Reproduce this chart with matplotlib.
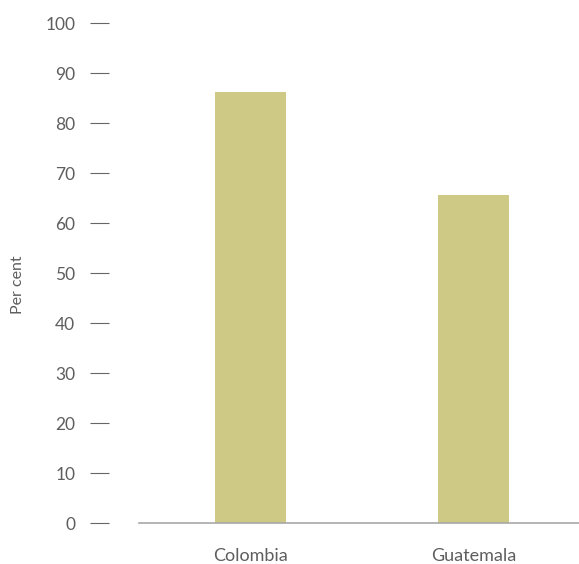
import matplotlib.pyplot as plt
import numpy as np

countries = ['Colombia', 'Guatemala']
per_cent = [86.3, 65.7]
y_ticks = list(range(0, 101, 10))

plt.rcParams['font.family'] = ['Lato', 'DejaVu Sans']

W, H = 579, 564
fig = plt.figure(figsize=(W / 100, H / 100), dpi=100)
ax = fig.add_axes([139 / W, (H - 523) / H, 446 / W, 500 / H])

x = np.arange(len(countries))
ax.bar(x, per_cent, width=0.314, color='#CECA86')

ax.set_xlim(-0.5, 1.5)
ax.set_ylim(0, 100)
ax.set_yticks(y_ticks)
ax.set_xticks(x, countries)

for side in ['top', 'right']:
    ax.spines[side].set_visible(False)
ax.spines['left'].set_position(('outward', 21.6))
ax.spines['left'].set_color('none')
ax.spines['bottom'].set_color('#a8a8a8')
ax.spines['bottom'].set_linewidth(1.2)

ax.tick_params(axis='y', length=13.7, width=0.8, color='#666666', pad=10.5,
               labelsize=12.5, labelcolor='#5e5e5e')
ax.tick_params(axis='x', length=0, pad=18, labelsize=13, labelcolor='#5e5e5e')

fig.text(18 / W, 1 - 285 / H, 'Per cent', rotation=90, ha='center', va='center',
         fontsize=11.5, color='#5e5e5e')

fig.savefig('out.png', dpi=100)
